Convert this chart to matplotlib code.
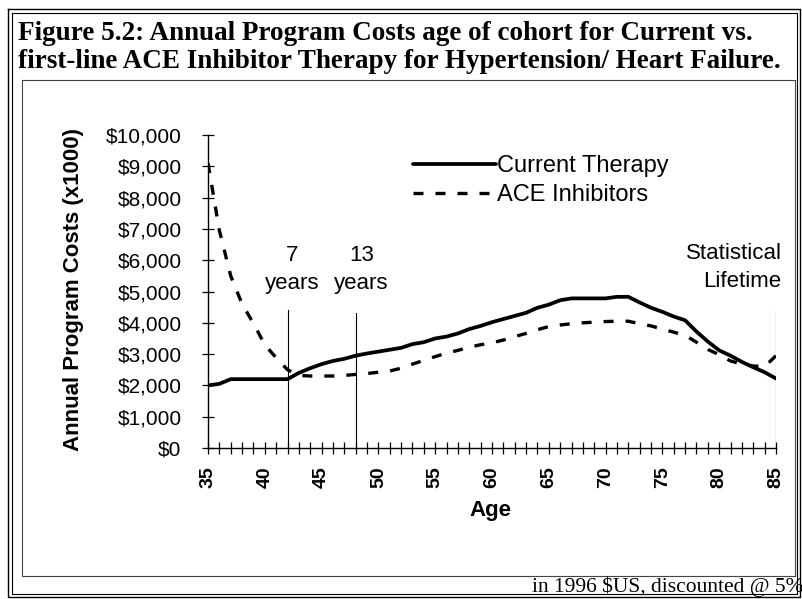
import numpy as np
import matplotlib.pyplot as plt
from matplotlib.lines import Line2D
from matplotlib.ticker import MultipleLocator, FuncFormatter

# data (program costs, $ x1000)
ages = list(range(35, 86))
current = [2.00, 2.05, 2.20, 2.20, 2.20, 2.20, 2.20, 2.20, 2.40, 2.55,
           2.68, 2.78, 2.85, 2.95, 3.02, 3.08, 3.14, 3.20, 3.32, 3.38,
           3.50, 3.56, 3.66, 3.80, 3.90, 4.02, 4.12, 4.22, 4.32, 4.48,
           4.58, 4.72, 4.78, 4.78, 4.78, 4.78, 4.83, 4.83, 4.65, 4.48,
           4.35, 4.20, 4.08, 3.72, 3.40, 3.12, 2.95, 2.75, 2.58, 2.42,
           2.22]
ace = [9.10, 6.95, 5.50, 4.60, 3.98, 3.30, 2.88, 2.50, 2.32, 2.30,
       2.30, 2.30, 2.32, 2.35, 2.38, 2.42, 2.46, 2.55, 2.68, 2.80,
       2.92, 3.03, 3.12, 3.22, 3.30, 3.36, 3.45, 3.56, 3.66, 3.78,
       3.88, 3.93, 3.97, 4.00, 4.02, 4.04, 4.05, 4.05, 3.97, 3.90,
       3.80, 3.70, 3.60, 3.38, 3.15, 2.98, 2.78, 2.68, 2.62, 2.60,
       2.95]
current = [v * 1000 for v in current]
ace = [v * 1000 for v in ace]

marker_ages = [42, 48, 85]
marker_top = [4400, 4300, 4400]
marker_text = ["7\nyears", "13\nyears", "Statistical\nLifetime"]

W, H = 802, 599
fig = plt.figure(figsize=(W / 100, H / 100), dpi=100)
fig.patch.set_facecolor("white")

def fx(px):
    return px / W

def fy(py):
    return 1 - py / H

ax = fig.add_axes([fx(208), fy(448), fx(776) - fx(208), fy(135) - fy(448)])
sans = "Liberation Sans"
serif = "Liberation Serif"

ax.plot(ages, current, color="black", lw=2.7, solid_capstyle="round",
        label="Current Therapy")
ax.plot(ages, ace, color="black", lw=2.4, dashes=(3.0, 3.6),
        dash_capstyle="butt", label="ACE Inhibitors")

for a, top in zip(marker_ages, marker_top):
    ax.plot([a, a], [0, top], color="black", lw=0.8)

ax.text(42.4, 6500, marker_text[0], ha="center", va="top", fontsize=16,
        family=sans, linespacing=1.45)
ax.text(48.5, 6500, marker_text[1], ha="center", va="top", fontsize=16,
        family=sans, linespacing=1.45)
ax.text(85.5, 6550, marker_text[2], ha="right", va="top", fontsize=16,
        family=sans, linespacing=1.45)

ax.set_xlim(35, 85)
ax.set_ylim(0, 10000)
for s in ["top", "right"]:
    ax.spines[s].set_visible(False)
ax.spines["left"].set_linewidth(1.0)
ax.spines["bottom"].set_linewidth(1.0)

ax.xaxis.set_major_locator(MultipleLocator(5))
ax.xaxis.set_minor_locator(MultipleLocator(1))
ax.yaxis.set_major_locator(MultipleLocator(1000))
ax.yaxis.set_major_formatter(FuncFormatter(lambda v, p: "${:,.0f}".format(v)))
ax.tick_params(axis="both", which="both", direction="inout", length=8,
               width=0.9, color="black")
ax.tick_params(axis="y", pad=15, labelsize=15)
ax.tick_params(axis="x", pad=9, labelsize=14, labelrotation=90)
for lab in ax.get_yticklabels():
    lab.set_family(sans)
for lab in ax.get_xticklabels():
    lab.set_family(sans)
    lab.set_fontweight("bold")

ax.set_ylabel("Annual Program Costs (x1000)", fontsize=16, fontweight="bold",
              family=sans)
ax.yaxis.set_label_coords(-0.218, 0.505)
ax.set_xlabel("Age", fontsize=16, fontweight="bold", family=sans)
ax.xaxis.set_label_coords(0.497, -0.165)

leg = ax.legend(loc="upper left", bbox_to_anchor=(0.345, 0.965), frameon=False,
                handlelength=3.5, handletextpad=0.05, labelspacing=0.3,
                borderaxespad=0.0, prop={"family": sans, "size": 17})

# title and frames
fig.text(fx(18), fy(33), "Figure 5.2: Annual Program Costs age of cohort for Current vs.",
         ha="left", va="center", fontsize=19.5, fontweight="bold", family=serif)
fig.text(fx(18), fy(61), "first-line ACE Inhibitor Therapy for Hypertension/ Heart Failure.",
         ha="left", va="center", fontsize=19.5, fontweight="bold", family=serif)
fig.text(fx(532), fy(587), "in 1996 $US, discounted @ 5%", ha="left", va="center",
         fontsize=15.5, family=serif)

def frame(x0, y0, x1, y1, lw, color="black"):
    xs = [fx(x0), fx(x1), fx(x1), fx(x0), fx(x0)]
    ys = [fy(y0), fy(y0), fy(y1), fy(y1), fy(y0)]
    fig.add_artist(Line2D(xs, ys, color=color, lw=lw, transform=fig.transFigure))

frame(8, 9, 800, 597, 1.0)
frame(12, 13, 797, 594, 0.8)
frame(22, 80, 795, 576, 0.8, "#444444")

fig.savefig("out.png", dpi=100, facecolor="white")
